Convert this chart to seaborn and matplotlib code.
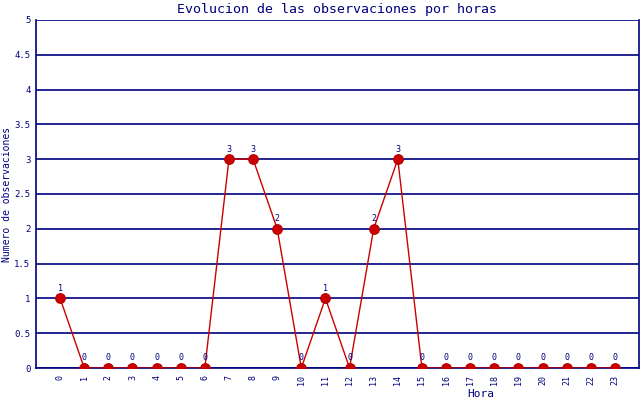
import matplotlib
matplotlib.use("Agg")
import matplotlib.pyplot as plt
import pandas as pd
import seaborn as sns

# hourly observation counts
horas = list(range(24))
observaciones = [1, 0, 0, 0, 0, 0, 0, 3, 3, 2, 0, 1, 0, 2, 3, 0, 0, 0, 0, 0, 0, 0, 0, 0]
y_ticks = [0, 0.5, 1, 1.5, 2, 2.5, 3, 3.5, 4, 4.5, 5]
y_tick_labels = ["0", "0.5", "1", "1.5", "2", "2.5", "3", "3.5", "4", "4.5", "5"]

navy = "#000080"
red = "#cc0000"

sns.set_style("white")
plt.rcParams["font.family"] = ["DejaVu Sans Mono"]

df = pd.DataFrame({"hora": horas, "obs": observaciones})

fig = plt.figure(figsize=(6.4, 4.0), dpi=100)
ax = fig.add_axes([36 / 640, 32 / 400, 603 / 640, 348 / 400])

for yv in y_ticks:
    ax.axhline(yv, color=navy, lw=1.2, zorder=1)

sns.lineplot(data=df, x="hora", y="obs", color=red, lw=1.0,
             marker="o", markersize=7, markerfacecolor="#cc0000",
             markeredgecolor="#b00000", ax=ax, zorder=3)

for h, v in zip(horas, observaciones):
    ax.annotate(str(v), (h, v), xytext=(0, 4), textcoords="offset points",
                ha="center", va="bottom", fontsize=6, color=navy)

ax.set_xlim(-1, 24)
ax.set_ylim(0, 5)
ax.set_xticks(horas)
ax.set_xticklabels([str(h) for h in horas], rotation=90, fontsize=6, color=navy)
ax.set_yticks(y_ticks)
ax.set_yticklabels(y_tick_labels, fontsize=6.5, color=navy)
ax.tick_params(axis="x", length=3, color=navy, width=1, pad=2)
ax.tick_params(axis="y", length=0, pad=4)

for side in ["left", "bottom", "right"]:
    ax.spines[side].set_color(navy)
    ax.spines[side].set_linewidth(1.2)
ax.spines["top"].set_visible(False)

ax.set_xlabel("")
ax.set_ylabel("Numero de observaciones", fontsize=7, color=navy, labelpad=1.5)
fig.text(481 / 640, 1 - 394 / 400, "Hora", ha="center", va="center",
         fontsize=8, color=navy)
fig.text(337 / 640, 1 - 9 / 400, "Evolucion de las observaciones por horas",
         ha="center", va="center", fontsize=9.5, color=navy)

fig.savefig("out.png", dpi=100)
